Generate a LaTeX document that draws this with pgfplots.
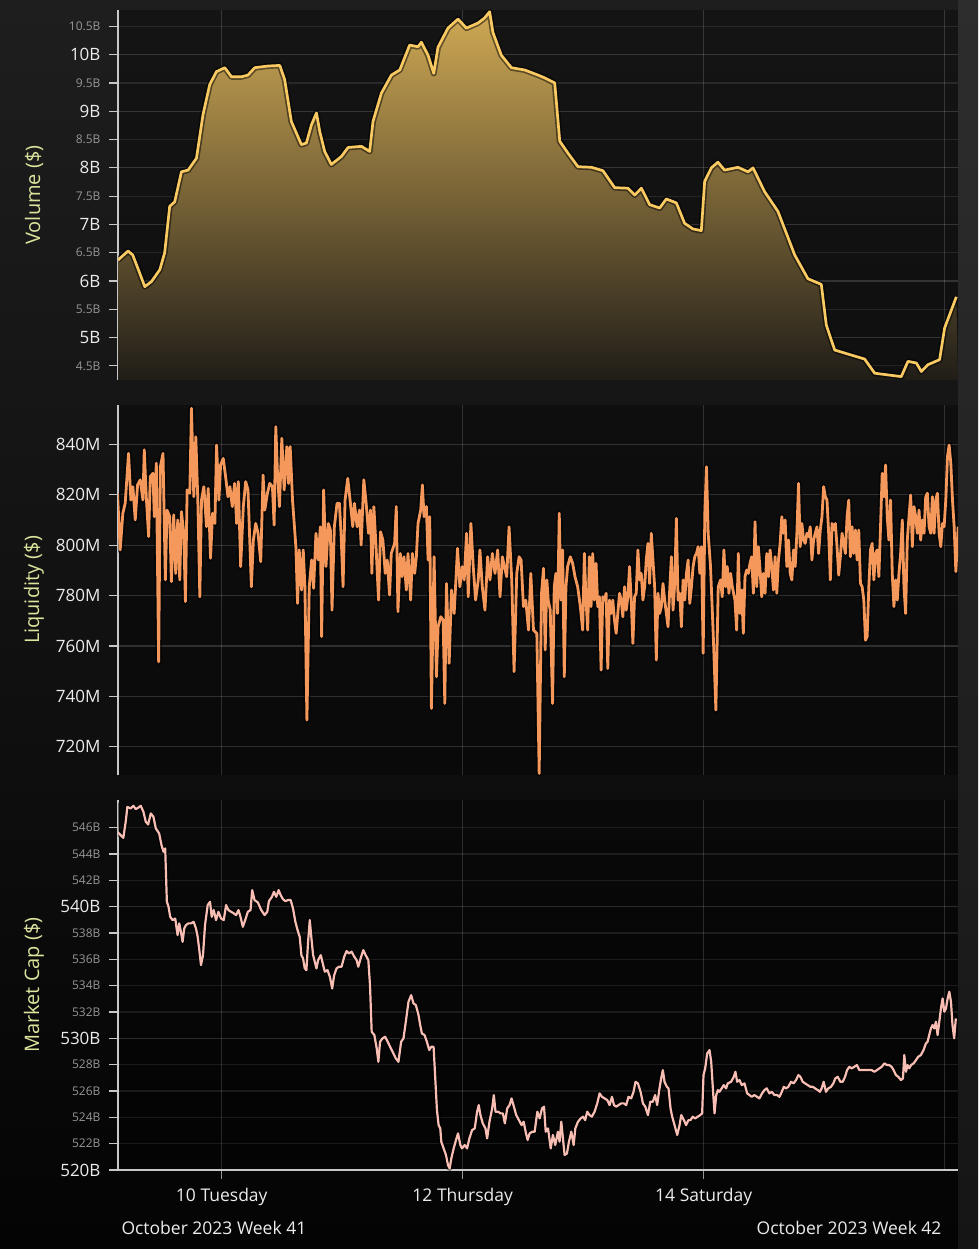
\documentclass[border=0pt]{standalone}
\usepackage{fontspec}
\setmainfont{Open Sans}
\usepackage{pgfplots}
\pgfplotsset{compat=1.18}
\usepackage{pgfplotstable}
\definecolor{volline}{RGB}{250,202,98}
\definecolor{voltop}{RGB}{206,168,84}
\definecolor{volbot}{RGB}{32,29,24}
\definecolor{liqline}{RGB}{244,152,92}
\definecolor{capline}{RGB}{248,190,180}
\definecolor{labcol}{RGB}{222,228,158}
\definecolor{majcol}{RGB}{236,236,236}
\definecolor{mincol}{RGB}{150,150,150}
\definecolor{axcol}{RGB}{200,200,200}
\definecolor{bgtop}{RGB}{30,30,30}
\definecolor{bgbot}{RGB}{4,4,4}

% x: 20-minute steps since 9 Oct 2023 00:00 (72 = 10 Oct, 216 = 12 Oct, 360 = 14 Oct, 504 = 16 Oct)
\pgfplotstableread[row sep=\\]{
x y\\
10.0 6.37\\ 16.0 6.53\\ 18.8 6.46\\ 21.8 6.23\\ 26.0 5.90\\ 30.0 5.99\\ 35.0 6.20\\ 37.9 6.50\\
40.9 7.32\\ 43.9 7.40\\ 47.9 7.93\\ 51.9 7.96\\ 56.9 8.17\\ 60.8 8.94\\ 64.8 9.47\\ 68.8 9.70\\
73.8 9.77\\ 77.8 9.61\\ 83.8 9.61\\ 87.7 9.64\\ 91.7 9.77\\ 99.7 9.80\\ 106.7 9.81\\ 109.6 9.56\\
113.6 8.82\\ 119.6 8.41\\ 122.6 8.44\\ 125.6 8.76\\ 128.6 8.97\\ 130.6 8.64\\ 133.5 8.29\\ 137.5 8.06\\
143.5 8.20\\ 147.5 8.36\\ 155.5 8.38\\ 160.4 8.29\\ 162.4 8.82\\ 167.4 9.32\\ 173.4 9.64\\ 178.4 9.73\\
184.3 10.17\\ 189.3 10.14\\ 191.3 10.22\\ 195.3 9.99\\ 198.7 9.67\\ 201.2 10.13\\ 207.2 10.47\\ 213.2 10.63\\
218.2 10.47\\ 225.2 10.56\\ 229.1 10.65\\ 232.1 10.76\\ 234.1 10.39\\ 239.1 9.99\\ 245.1 9.77\\ 253.0 9.73\\
261.0 9.64\\ 265.0 9.59\\ 271.0 9.50\\ 274.0 8.47\\ 278.9 8.26\\ 284.9 8.02\\ 292.9 8.01\\ 299.8 7.95\\
306.8 7.65\\ 314.8 7.64\\ 318.8 7.52\\ 322.8 7.64\\ 327.7 7.35\\ 333.7 7.29\\ 337.7 7.45\\ 343.7 7.38\\
348.6 7.02\\ 353.6 6.92\\ 358.6 6.89\\ 360.6 7.76\\ 364.6 8.00\\ 368.5 8.10\\ 372.5 7.96\\ 380.5 8.01\\
386.5 7.93\\ 389.5 8.00\\ 396.4 7.58\\ 404.4 7.23\\ 414.4 6.46\\ 422.3 6.04\\ 430.3 5.94\\ 433.3 5.22\\
438.3 4.78\\ 448.3 4.69\\ 456.2 4.62\\ 462.2 4.37\\ 470.1 4.34\\ 478.1 4.31\\ 482.1 4.58\\ 487.1 4.55\\
490.1 4.40\\ 494.0 4.52\\ 501.0 4.61\\ 504.0 5.17\\ 511.0 5.72\\
}\vol

\pgfplotstableread[row sep=\\]{
x y\\
9.7 820.6\\ 11.3 798.1\\ 12.9 812.6\\ 14.3 816.6\\ 16.3 836.4\\ 17.7 817.9\\ 18.9 823.2\\ 20.3 810.0\\
21.7 823.9\\ 23.3 825.9\\ 24.9 817.9\\ 25.7 837.8\\ 26.9 819.2\\ 28.3 803.4\\ 29.3 827.2\\ 30.9 828.5\\
31.7 811.3\\ 32.9 832.5\\ 34.3 753.7\\ 35.3 831.1\\ 36.9 836.4\\ 38.3 786.2\\ 39.3 813.9\\ 40.9 811.3\\
41.9 785.5\\ 43.3 812.0\\ 44.5 788.8\\ 45.7 810.0\\ 46.9 786.2\\ 47.9 813.3\\ 49.3 804.7\\ 50.3 777.6\\
51.3 821.9\\ 52.9 820.6\\ 53.9 854.3\\ 55.3 819.2\\ 56.5 843.0\\ 57.7 817.9\\ 58.9 779.5\\ 59.9 817.9\\
61.3 823.2\\ 62.9 807.3\\ 63.9 822.5\\ 65.3 794.8\\ 66.5 812.6\\ 67.9 808.6\\ 68.9 839.7\\ 70.3 817.9\\
71.3 831.8\\ 72.9 834.4\\ 74.3 827.2\\ 75.7 819.2\\ 76.9 823.2\\ 78.3 815.3\\ 79.7 824.5\\ 80.9 808.6\\
81.9 825.2\\ 83.3 791.5\\ 84.9 815.3\\ 86.3 825.2\\ 87.7 821.9\\ 89.7 783.5\\ 90.9 802.0\\ 92.3 808.6\\
93.7 804.7\\ 95.3 793.4\\ 96.7 827.8\\ 97.7 813.9\\ 99.3 820.6\\ 100.7 824.5\\ 102.3 823.2\\ 103.3 808.0\\
104.3 847.0\\ 105.3 828.5\\ 106.5 815.3\\ 107.9 842.4\\ 109.3 821.9\\ 110.9 839.1\\ 111.9 824.5\\ 112.9 839.1\\
114.3 817.9\\ 116.3 799.4\\ 117.3 776.9\\ 118.3 798.1\\ 119.7 782.2\\ 120.7 798.1\\ 121.7 783.5\\ 122.9 730.6\\
124.3 783.5\\ 125.7 794.1\\ 126.9 782.9\\ 128.3 804.7\\ 129.7 794.1\\ 130.9 807.3\\ 131.7 763.7\\ 132.9 821.9\\
134.3 791.5\\ 135.7 808.6\\ 136.9 806.0\\ 137.9 774.2\\ 139.3 807.3\\ 140.9 816.6\\ 142.3 816.6\\ 143.3 804.7\\
144.5 783.5\\ 145.7 817.9\\ 147.3 826.5\\ 148.9 816.6\\ 150.3 807.3\\ 151.3 816.6\\ 152.9 807.3\\ 154.3 813.9\\
155.3 800.0\\ 156.9 825.9\\ 158.3 816.6\\ 159.7 804.7\\ 160.9 813.9\\ 161.7 788.8\\ 162.9 815.3\\ 164.3 798.1\\
165.7 778.2\\ 166.9 805.3\\ 168.3 802.0\\ 169.7 788.8\\ 170.9 794.1\\ 172.3 780.2\\ 173.3 796.7\\ 175.3 800.7\\
176.3 815.3\\ 177.3 773.6\\ 178.7 796.7\\ 179.7 787.5\\ 180.9 795.4\\ 182.3 782.2\\ 183.3 796.7\\ 184.9 778.2\\
185.9 796.7\\ 187.3 788.8\\ 188.3 795.4\\ 189.3 808.6\\ 190.9 813.9\\ 191.9 823.9\\ 192.9 811.3\\ 194.3 815.3\\
195.3 794.1\\ 196.3 811.3\\ 197.3 735.2\\ 198.9 795.4\\ 200.3 747.8\\ 201.3 767.6\\ 202.9 771.6\\ 204.3 770.3\\
205.3 737.2\\ 206.3 784.8\\ 207.9 753.1\\ 209.3 782.2\\ 210.9 772.9\\ 212.9 798.7\\ 214.3 783.5\\ 215.7 791.5\\
216.9 786.2\\ 218.3 804.7\\ 219.3 779.5\\ 220.9 808.6\\ 222.3 791.5\\ 223.7 778.2\\ 225.3 786.2\\ 226.3 798.1\\
227.7 783.5\\ 229.3 774.2\\ 230.9 795.4\\ 232.3 786.2\\ 233.7 796.7\\ 235.3 788.8\\ 236.9 798.1\\ 238.3 779.5\\
239.7 795.4\\ 240.9 791.5\\ 242.3 787.5\\ 243.7 807.3\\ 245.3 786.2\\ 246.7 749.8\\ 248.3 788.8\\ 249.7 795.4\\
250.9 794.1\\ 252.3 775.6\\ 253.7 778.2\\ 255.3 766.3\\ 256.7 788.8\\ 258.3 766.3\\
260.3 765.0\\ 261.7 709.4\\ 263.1 780.9\\ 264.3 790.8\\ 265.3 758.4\\ 266.3 786.2\\ 267.1 778.2\\ 268.3 774.3\\
269.7 737.2\\ 270.7 783.5\\ 271.7 788.8\\ 272.7 772.9\\ 273.7 812.6\\ 274.7 778.2\\ 275.7 798.1\\ 276.7 747.8\\
277.7 783.5\\ 278.7 791.5\\ 280.3 795.4\\ 281.7 792.8\\ 283.1 787.5\\ 284.7 783.5\\ 286.3 775.6\\ 287.7 766.3\\
288.7 796.7\\ 289.7 778.2\\ 290.7 766.3\\ 291.7 795.4\\ 292.7 775.6\\ 293.7 796.7\\ 294.7 778.2\\ 295.7 792.8\\
296.7 775.6\\ 297.7 779.5\\ 298.7 750.4\\ 299.7 779.5\\ 300.7 778.2\\ 301.7 780.9\\ 302.7 751.1\\ 303.7 778.2\\
304.7 772.9\\ 305.7 778.2\\ 306.7 770.3\\ 307.7 765.0\\ 308.7 772.9\\ 309.7 780.9\\ 310.7 778.2\\ 311.7 771.6\\
312.7 783.5\\ 313.7 774.2\\ 314.7 779.5\\ 315.7 791.5\\ 316.7 778.2\\ 317.7 761.0\\ 318.7 779.5\\ 319.7 780.9\\
320.7 798.1\\ 321.7 786.2\\ 322.7 788.8\\ 323.7 778.2\\ 324.7 783.5\\ 325.7 794.1\\ 326.7 800.7\\ 327.7 784.8\\
328.7 804.7\\ 329.7 794.1\\ 330.7 783.5\\ 331.7 754.4\\ 332.7 780.9\\ 333.7 772.9\\ 334.7 775.6\\ 335.7 784.8\\
336.7 778.2\\ 337.7 772.9\\ 338.7 767.6\\ 339.7 782.2\\ 340.7 795.4\\ 341.7 774.2\\ 342.7 784.8\\ 343.7 810.6\\
344.7 778.2\\ 345.7 780.9\\ 346.7 767.6\\ 347.7 786.2\\ 348.7 778.2\\ 349.7 788.8\\ 350.7 794.1\\ 351.7 776.9\\
352.7 783.5\\ 353.7 791.5\\ 354.7 795.4\\ 355.7 796.7\\ 356.7 799.4\\ 357.7 788.8\\ 358.7 799.4\\ 359.7 757.1\\
360.7 812.6\\ 361.7 831.1\\ 362.7 804.7\\ 364.1 791.5\\ 365.7 765.0\\ 367.3 734.6\\ 368.7 783.5\\ 370.1 786.2\\
371.1 779.5\\ 372.1 798.1\\ 373.1 783.5\\ 374.1 791.5\\ 375.1 780.9\\ 376.1 788.8\\ 377.1 783.5\\ 378.7 778.2\\
379.7 766.3\\ 380.7 796.7\\ 381.7 772.9\\ 382.7 782.2\\ 383.7 765.0\\ 384.7 787.5\\ 385.7 790.1\\ 386.7 788.8\\
387.7 792.8\\ 388.7 795.4\\ 389.7 780.9\\ 390.7 809.3\\ 391.7 783.5\\ 392.7 799.4\\ 393.7 790.1\\ 394.7 779.5\\
395.7 788.8\\ 396.7 780.9\\ 397.7 796.7\\ 398.7 787.5\\ 399.7 798.1\\ 400.7 791.5\\ 401.7 782.2\\ 402.7 795.4\\
403.7 780.9\\ 404.7 794.1\\ 405.7 800.7\\ 406.7 811.3\\ 407.7 804.7\\ 408.7 810.0\\ 409.7 791.5\\ 410.7 802.0\\
411.7 788.8\\ 412.7 786.2\\ 413.7 798.1\\ 414.7 791.5\\ 415.7 804.7\\ 416.7 824.5\\ 417.7 799.4\\ 418.7 808.6\\
419.7 802.0\\ 420.7 800.7\\ 421.7 804.7\\ 422.7 803.4\\ 423.7 807.3\\ 424.7 794.1\\ 425.7 802.0\\ 426.7 804.7\\
427.7 807.3\\ 428.7 796.7\\ 429.7 806.0\\ 430.7 811.3\\ 431.7 823.2\\ 432.7 819.2\\ 433.7 817.9\\ 434.7 804.7\\
435.7 786.2\\ 436.7 808.6\\ 437.7 806.0\\ 438.7 808.6\\ 439.7 799.4\\ 440.7 788.1\\ 441.7 795.4\\ 442.7 804.7\\
443.7 800.7\\ 444.7 796.7\\ 445.7 811.3\\ 446.7 817.9\\ 447.7 795.4\\ 448.7 807.3\\ 449.7 796.7\\ 450.7 806.0\\
451.7 794.1\\ 452.7 806.0\\ 453.7 784.8\\ 454.7 783.5\\ 455.7 778.2\\ 456.7 762.3\\ 457.7 763.7\\ 458.7 783.5\\
459.7 798.1\\ 460.7 800.7\\ 461.7 786.2\\ 462.7 796.7\\ 463.7 798.1\\ 464.7 787.5\\ 465.7 807.3\\ 466.7 828.5\\
467.7 819.2\\ 468.7 831.8\\ 469.7 811.3\\ 470.7 802.0\\ 471.7 817.9\\ 472.7 788.8\\ 473.7 775.6\\ 474.7 786.2\\
475.7 778.2\\ 476.7 788.8\\ 477.7 796.7\\ 478.7 810.0\\ 479.7 783.5\\ 480.7 772.9\\ 481.7 802.0\\ 482.7 811.3\\
483.7 819.9\\ 484.7 799.4\\ 485.7 815.3\\ 486.7 811.3\\ 487.7 804.7\\ 488.7 813.9\\ 489.7 802.0\\ 490.7 810.0\\
491.7 804.7\\ 492.7 819.2\\ 493.7 820.6\\ 494.7 807.3\\ 495.7 804.7\\ 496.7 819.2\\ 497.7 804.7\\ 498.7 817.9\\
499.7 820.6\\ 500.7 804.7\\ 501.7 799.4\\ 502.7 808.6\\ 503.7 807.3\\ 504.7 817.9\\ 505.7 835.1\\ 506.7 839.7\\
507.7 832.5\\ 508.7 817.9\\ 509.7 807.3\\ 510.7 789.5\\ 512.1 807.3\\
}\liq

\pgfplotstableread[row sep=\\]{
x y\\
9.0 547.9\\ 9.6 545.69\\ 11.6 545.43\\ 13.2 545.23\\ 14.6 546.45\\ 15.6 547.58\\ 17.6 547.46\\ 19.2 547.66\\
20.6 547.41\\ 22.0 547.51\\ 23.6 547.66\\ 25.2 547.20\\ 26.6 546.45\\ 28.0 546.24\\ 29.6 547.08\\ 31.2 546.82\\
32.6 545.94\\ 34.6 545.56\\ 36.0 544.67\\ 37.2 544.17\\ 38.2 544.42\\ 39.2 540.37\\ 40.2 539.99\\ 41.2 539.23\\
42.6 538.98\\ 44.2 539.10\\ 45.6 537.84\\ 46.6 538.73\\ 47.6 538.09\\ 48.6 537.33\\ 49.6 538.35\\ 50.6 538.60\\
52.0 538.73\\ 53.6 538.73\\ 55.2 538.85\\ 56.6 538.35\\ 57.6 537.71\\ 58.6 536.70\\ 59.6 535.56\\ 60.8 536.32\\
62.0 538.60\\ 63.6 540.12\\ 65.0 540.37\\ 66.0 539.23\\ 67.2 539.74\\ 68.6 538.98\\ 70.0 539.61\\ 71.6 539.10\\
73.2 538.98\\ 74.6 540.12\\ 76.0 539.74\\ 77.6 539.61\\ 79.2 539.49\\ 80.6 539.36\\ 82.0 539.74\\ 83.2 539.23\\
84.6 538.47\\ 86.0 538.98\\ 87.6 539.61\\ 89.2 539.74\\ 90.2 541.26\\ 91.6 540.50\\ 93.6 540.32\\ 95.6 539.74\\
97.6 539.36\\ 99.2 539.61\\ 100.2 540.42\\ 102.0 540.75\\ 103.2 541.13\\ 104.6 540.75\\ 106.0 541.26\\ 107.2 540.88\\
108.6 540.57\\ 110.0 540.42\\ 111.6 540.50\\ 113.2 540.50\\ 114.6 539.86\\ 116.0 538.85\\ 117.6 538.09\\ 118.6 537.71\\
119.6 536.32\\ 120.6 536.07\\ 121.6 535.31\\ 122.6 535.18\\ 123.6 537.33\\ 124.6 538.98\\ 125.6 537.59\\ 126.6 536.32\\
127.6 535.82\\ 128.6 535.31\\ 129.6 535.94\\ 131.2 536.32\\ 132.6 535.56\\ 133.6 535.06\\ 135.2 535.18\\ 136.6 534.68\\
138.0 533.79\\ 139.2 534.80\\ 140.6 535.31\\ 142.0 535.44\\ 143.6 535.44\\ 145.2 536.20\\ 146.6 536.63\\ 148.0 536.45\\
149.6 536.58\\ 151.2 536.20\\ 152.6 535.94\\ 153.6 535.44\\ 155.0 536.07\\ 156.6 536.70\\ 158.0 536.32\\ 159.6 535.94\\
160.6 534.04\\ 161.6 530.50\\ 163.2 530.25\\ 164.6 529.24\\ 165.6 528.22\\ 166.6 529.74\\ 168.0 529.99\\ 169.6 530.12\\
171.2 529.74\\ 172.6 529.36\\ 174.6 528.85\\ 176.0 528.48\\ 177.6 528.22\\ 179.2 529.74\\ 180.6 529.99\\ 182.0 531.26\\
183.6 532.78\\ 185.2 533.28\\ 186.6 532.65\\ 188.0 532.53\\ 189.6 531.77\\ 190.6 531.01\\ 191.6 530.37\\ 193.2 530.25\\
194.6 529.74\\ 196.0 529.11\\ 197.2 529.36\\ 198.6 529.36\\ 199.6 526.96\\ 200.6 524.55\\ 201.6 523.41\\ 202.6 523.16\\
203.2 522.15\\ 204.6 521.64\\ 206.0 521.14\\ 207.2 520.38\\ 208.2 520.12\\ 209.2 520.88\\ 210.6 521.64\\ 212.0 522.28\\
213.2 522.78\\ 214.6 521.90\\ 215.6 521.64\\ 217.2 521.90\\ 218.6 521.64\\ 220.0 522.40\\ 221.6 523.03\\ 223.2 523.16\\
224.6 524.43\\ 225.6 524.93\\ 226.6 524.17\\ 228.0 523.54\\ 229.6 523.16\\ 230.6 522.40\\ 232.0 523.67\\ 233.6 524.68\\
234.6 525.69\\ 235.6 524.43\\ 237.2 524.43\\ 238.6 524.30\\ 240.0 524.30\\ 241.2 523.54\\ 242.6 524.68\\ 244.0 524.93\\
245.2 525.44\\ 246.6 524.81\\ 248.0 524.17\\ 249.6 523.79\\ 251.2 523.41\\ 252.4 523.67\\ 253.6 522.91\\ 254.8 522.28\\
256.0 522.78\\ 257.6 522.91\\
259.0 522.91\\ 260.6 524.43\\ 262.0 523.92\\ 263.4 524.68\\ 264.6 524.81\\ 265.6 522.91\\ 267.0 523.16\\ 268.6 521.64\\
269.9 522.66\\ 271.3 521.90\\ 272.9 522.91\\ 273.9 522.15\\ 274.9 523.67\\ 275.9 522.40\\ 276.9 521.14\\ 278.3 521.26\\
279.5 522.15\\ 280.9 522.91\\ 282.3 521.90\\ 283.3 523.16\\ 284.9 523.67\\ 286.5 523.92\\ 287.9 524.05\\ 289.2 523.79\\
290.4 524.43\\ 291.8 524.17\\ 293.2 524.05\\ 294.8 524.43\\ 296.4 525.06\\ 297.8 525.82\\ 299.2 525.56\\ 300.8 525.44\\
302.4 525.31\\ 303.8 524.93\\ 305.2 525.56\\ 306.4 524.93\\ 307.8 524.81\\ 309.1 524.93\\ 310.7 525.06\\ 312.3 525.06\\
313.7 524.93\\ 315.1 525.56\\ 316.7 525.44\\ 318.1 525.94\\ 319.3 526.70\\ 320.7 526.58\\ 322.3 525.94\\ 323.7 525.06\\
325.1 524.81\\ 326.7 524.17\\ 328.1 525.18\\ 329.6 525.18\\ 331.0 525.69\\ 332.2 524.93\\ 333.6 526.20\\ 334.6 526.96\\
335.6 527.59\\ 336.6 526.70\\ 338.0 526.32\\ 339.0 526.20\\ 340.2 524.68\\ 341.2 524.05\\ 342.6 523.41\\ 344.2 522.66\\
345.6 523.41\\ 346.6 524.17\\ 348.2 523.79\\ 349.5 523.41\\ 350.9 523.79\\ 352.1 523.79\\ 353.5 524.05\\ 354.9 523.92\\
356.5 524.05\\ 357.9 524.17\\ 359.1 524.30\\ 359.9 527.21\\ 360.9 527.72\\ 362.1 528.85\\ 363.5 529.11\\ 364.5 528.22\\
365.5 526.20\\ 366.5 524.30\\ 367.5 525.69\\ 368.5 526.07\\ 369.4 525.94\\ 370.8 526.20\\ 372.0 526.45\\ 373.4 526.20\\
374.4 526.58\\ 376.4 526.70\\ 378.0 527.08\\ 379.0 527.46\\ 380.0 526.70\\ 381.4 526.83\\ 382.8 526.45\\ 384.4 526.58\\
386.0 525.82\\ 387.4 525.69\\ 388.7 525.56\\ 390.3 525.69\\ 391.9 525.56\\ 393.3 525.44\\ 394.9 525.82\\ 396.3 526.07\\
397.7 526.20\\ 399.3 525.82\\ 400.7 525.94\\ 402.3 525.69\\ 403.9 525.69\\ 405.3 525.56\\ 406.7 525.94\\ 407.9 526.32\\
409.2 526.20\\ 410.6 526.32\\ 412.2 526.70\\ 413.8 526.58\\ 415.2 526.83\\ 416.6 527.21\\ 417.8 527.08\\ 419.2 526.70\\
420.6 526.58\\ 422.2 526.45\\ 423.8 526.32\\ 425.2 526.32\\ 426.6 526.20\\ 428.2 526.07\\ 429.5 525.94\\ 430.5 526.20\\
431.7 526.70\\ 433.1 525.94\\ 434.5 526.20\\ 436.1 526.32\\ 437.5 526.58\\ 438.7 526.96\\ 440.1 527.08\\ 441.7 526.70\\
443.1 526.70\\ 444.5 527.08\\ 445.7 527.59\\ 447.1 527.84\\ 448.4 527.72\\ 450.0 527.84\\ 451.6 527.97\\ 453.0 527.59\\
454.4 527.59\\ 456.0 527.59\\ 457.6 527.59\\ 459.0 527.59\\ 460.4 527.59\\ 462.0 527.46\\ 463.6 527.59\\ 465.0 527.72\\
466.4 527.84\\ 468.0 528.10\\ 469.5 527.97\\ 470.9 527.97\\ 472.3 527.84\\ 473.5 527.59\\ 474.9 527.21\\ 476.3 527.08\\
477.9 526.83\\ 479.1 526.96\\ 479.9 528.73\\ 480.9 527.46\\ 481.9 527.97\\ 482.9 527.72\\ 483.9 527.97\\ 485.5 528.10\\
486.9 528.35\\ 488.2 528.60\\ 489.8 528.73\\ 491.4 529.11\\ 492.8 529.61\\ 493.8 529.74\\ 494.8 530.25\\ 495.8 530.75\\
496.8 531.01\\ 497.8 530.75\\ 498.8 531.26\\ 499.8 530.25\\ 500.8 531.26\\ 501.8 532.27\\ 502.8 533.03\\ 503.8 532.02\\
504.8 532.27\\ 505.8 533.03\\ 506.8 533.54\\ 507.8 532.78\\ 508.7 531.01\\ 509.7 530.00\\ 510.7 531.51\\
}\cap

\pgfplotsset{
  panel/.style={
    scale only axis, width=840pt, height=370pt,
    xmin=10, xmax=512,
    axis y line*=left, axis x line*=bottom,
    axis line style={-},
    y axis line style={draw=axcol, line width=2pt},
    x axis line style={draw=none},
    xtick={72,216,360,504}, xticklabels={},
    xmajorgrids, ymajorgrids,
    major grid style={draw=white, draw opacity=0.15, line width=1.2pt},
    tick align=outside,
    major tick length=9pt,
    ytick style={draw=axcol, line width=1.2pt},
    xtick style={draw=none},
    yticklabel style={font=\fontsize{17}{20}\selectfont, text=majcol, xshift=-5pt},
    axis background/.style={fill=black, fill opacity=0.3},
    every axis y label/.style={at={(rel axis cs:0,0.5)}, xshift=-84pt, rotate=90, anchor=center,
      font=\fontsize{20}{24}\selectfont, text=labcol},
    minorlab/.style={yticklabel style={font=\fontsize{12}{14}\selectfont, text=mincol},
      major grid style={draw=white, draw opacity=0.09, line width=1.2pt}},
  },
}

\begin{document}
\begin{tikzpicture}
\useasboundingbox (0,0) rectangle (978pt,-1249pt);
\fill[top color=bgtop, bottom color=bgbot] (0,0) rectangle (978pt,-1249pt);
\fill[white, opacity=0.07] (958pt,0) rectangle (978pt,-1249pt);

% ---- Volume ----
\begin{axis}[panel, at={(118pt,-380pt)}, anchor=south west,
  ymin=4.25, ymax=10.79,
  ytick={5,6,7,8,9,10}, yticklabels={5B,6B,7B,8B,9B,10B},
  extra y ticks={4.5,5.5,6.5,7.5,8.5,9.5,10.5},
  extra y tick labels={4.5B,5.5B,6.5B,7.5B,8.5B,9.5B,10.5B},
  extra y tick style={minorlab},
  ylabel={Volume (\$)}]
\addplot[draw=none, top color=voltop, bottom color=volbot] table {\vol}
   -- (axis cs:512,4.25) -- (axis cs:10,4.25) -- cycle;
\addplot[black, opacity=0.5, line width=6pt, line join=round] table {\vol};
\addplot[volline, line width=2.7pt, line join=round] table {\vol};
\end{axis}

% ---- Liquidity ----
\begin{axis}[panel, at={(118pt,-775pt)}, anchor=south west,
  ymin=708.8, ymax=855.6,
  ytick={720,740,760,780,800,820,840},
  yticklabels={720M,740M,760M,780M,800M,820M,840M},
  ylabel={Liquidity (\$)}]
\addplot[black, opacity=0.5, line width=6.5pt, line join=round] table {\liq};
\addplot[liqline, line width=2.8pt, line join=round] table {\liq};
\end{axis}

% ---- Market Cap ----
\begin{axis}[panel, at={(118pt,-1170pt)}, anchor=south west,
  ymin=520, ymax=548.1,
  x axis line style={draw=axcol, line width=2pt},
  xtick={72,216,360},
  xticklabels={10 Tuesday,12 Thursday,14 Saturday},
  xtick style={draw=mincol, line width=1.2pt},
  xticklabel style={font=\fontsize{17.5}{20}\selectfont, text=majcol, yshift=-6pt},
  extra x ticks={504}, extra x tick labels={},
  extra x tick style={xtick style={draw=none}},
  ytick={520,530,540}, yticklabels={520B,530B,540B},
  extra y ticks={522,524,526,528,532,534,536,538,542,544,546},
  extra y tick labels={522B,524B,526B,528B,532B,534B,536B,538B,542B,544B,546B},
  extra y tick style={minorlab},
  ylabel={Market Cap (\$)}]
\addplot[black, opacity=0.5, line width=5.5pt, line join=round] table {\cap};
\addplot[capline, line width=2.2pt, line join=round] table {\cap};
\end{axis}

\node[anchor=west, font=\fontsize{17.5}{20}\selectfont, text=majcol] at (118pt,-1228pt) {October 2023 Week 41};
\node[anchor=east, font=\fontsize{17.5}{20}\selectfont, text=majcol] at (945pt,-1228pt) {October 2023 Week 42};
\end{tikzpicture}
\end{document}
